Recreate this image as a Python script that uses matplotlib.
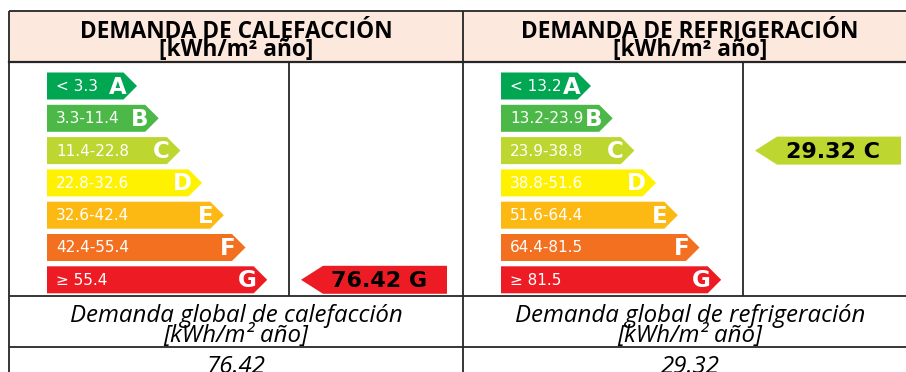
import matplotlib
matplotlib.use("Agg")
import matplotlib.pyplot as plt
from matplotlib.patches import Polygon, Rectangle

# ── Data ──────────────────────────────────────────────────────────────
classes       = ["A", "B", "C", "D", "E", "F", "G"]
class_colors  = ["#00a651", "#4cb848", "#bed630", "#fff200",
                 "#fdb913", "#f37021", "#ed1c24"]
heat_ranges   = ["< 3.3", "3.3-11.4", "11.4-22.8", "22.8-32.6",
                 "32.6-42.4", "42.4-55.4", "\u2265 55.4"]
cool_ranges   = ["< 13.2", "13.2-23.9", "23.9-38.8", "38.8-51.6",
                 "51.6-64.4", "64.4-81.5", "\u2265 81.5"]
heat_value, heat_class = 76.42, "G"
cool_value, cool_class = 29.32, "C"

titles    = ["DEMANDA DE CALEFACCIÓN", "DEMANDA DE REFRIGERACIÓN"]
subtitles = ["Demanda global de calefacción", "Demanda global de refrigeración"]
unit      = "[kWh/m\u00b2 año]"

# ── Layout (pixel space) ──────────────────────────────────────────────
W, H = 906, 372
fig = plt.figure(figsize=(W / 100, H / 100), dpi=100)
ax = fig.add_axes([0, 0, 1, 1])
ax.set_xlim(0, W)
ax.set_ylim(H, 0)
ax.axis("off")

line_kw = dict(color="#262626", lw=1.3, solid_capstyle="butt")
col_left  = [9, 463]
col_width = 454
inner_x   = [289, 743]
y_top, y_head, y_bars, y_glob = 11, 62, 296, 347

row_c0, row_step, bar_h = 86, 32.3, 27
bar_w0, bar_dw, tip = 90, 21.7, 13.5
bar_x0 = [47, 501]

# header background
for x in col_left:
    ax.add_patch(Rectangle((x, y_top), col_width, y_head - y_top,
                           facecolor="#fce8dc", edgecolor="none", zorder=0))

# grid lines
ax.plot([9, W], [y_top, y_top], **line_kw)
ax.plot([9, W], [y_head, y_head], color="#262626", lw=1.6)
ax.plot([9, W], [y_bars, y_bars], **line_kw)
ax.plot([9, W], [y_glob, y_glob], **line_kw)
ax.plot([9, 9], [y_top, H], **line_kw)
ax.plot([463, 463], [y_top, H], **line_kw)
for x in inner_x:
    ax.plot([x, x], [y_head, y_bars], **line_kw)


def draw_scale(x0, ranges):
    for i, (cls, col, rng) in enumerate(zip(classes, class_colors, ranges)):
        yc = row_c0 + i * row_step
        w = bar_w0 + i * bar_dw
        body = x0 + w - tip
        pts = [(x0, yc - bar_h / 2), (body, yc - bar_h / 2), (x0 + w, yc),
               (body, yc + bar_h / 2), (x0, yc + bar_h / 2)]
        ax.add_patch(Polygon(pts, closed=True, facecolor=col,
                             edgecolor="none", zorder=2))
        ax.text(x0 + 9, yc + 0.5, rng, color="white", fontsize=11,
                ha="left", va="center", zorder=3)
        ax.text(body + 3, yc + 1, cls, color="white", fontsize=16.5,
                fontweight="bold", ha="right", va="center", zorder=3)


def draw_indicator(x_tip, value, cls):
    i = classes.index(cls)
    yc = row_c0 + i * row_step
    w, t = 146, 22
    pts = [(x_tip, yc), (x_tip + t, yc - 14), (x_tip + w, yc - 14),
           (x_tip + w, yc + 14), (x_tip + t, yc + 14)]
    ax.add_patch(Polygon(pts, closed=True, facecolor=class_colors[i],
                         edgecolor="none", zorder=2))
    ax.text(x_tip + t + 56, yc + 1, f"{value:.2f} {cls}", color="black",
            fontsize=16, fontweight="bold", ha="center", va="center",
            zorder=3)


draw_scale(bar_x0[0], heat_ranges)
draw_scale(bar_x0[1], cool_ranges)
draw_indicator(301, heat_value, heat_class)
draw_indicator(755, cool_value, cool_class)

# header and footer texts
for k, x in enumerate(col_left):
    xc = x + col_width / 2
    ax.text(xc, 38, titles[k], family="Open Sans", fontweight="bold",
            fontsize=16.3, ha="center", va="baseline")
    ax.text(xc, 56, unit, family="Open Sans", fontweight="bold",
            fontsize=16.3, ha="center", va="baseline")
    ax.text(xc, 322, subtitles[k], family="Open Sans", style="italic",
            fontsize=17.3, ha="center", va="baseline")
    ax.text(xc, 342, unit, family="Open Sans", style="italic",
            fontsize=17.3, ha="center", va="baseline")

ax.text(col_left[0] + col_width / 2, 373, f"{heat_value:.2f}",
        family="Open Sans", style="italic", fontsize=17.3,
        ha="center", va="baseline")
ax.text(col_left[1] + col_width / 2, 373, f"{cool_value:.2f}",
        family="Open Sans", style="italic", fontsize=17.3,
        ha="center", va="baseline")

fig.savefig("out.png", dpi=100, facecolor="white")
